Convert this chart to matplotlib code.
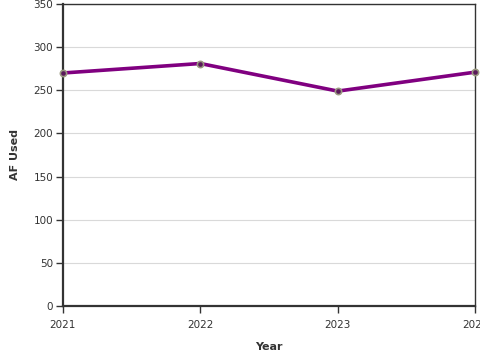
import matplotlib
matplotlib.use("Agg")
import matplotlib.pyplot as plt

years = [2021, 2022, 2023, 2024]
af_used = [270, 281, 249, 271]
y_ticks = [0, 50, 100, 150, 200, 250, 300, 350]

fig = plt.figure(figsize=(4.8, 3.6), dpi=100)
ax = fig.add_axes([0.131, 0.15, 0.859, 0.839])

ax.plot(years, af_used, color="#800080", linewidth=2.6, zorder=3)
ax.scatter(years, af_used, s=22, facecolor="#8c7f7f", edgecolor="#9a9a80",
           linewidth=1, zorder=4, clip_on=False)
ax.scatter(years, af_used, s=5, facecolor="#5a1a5a", zorder=5, clip_on=False)

ax.set_xlim(2021, 2024)
ax.set_ylim(0, 350)
ax.set_xticks(years)
ax.set_yticks(y_ticks)
ax.grid(axis="y", color="#d9d9d9", linewidth=0.8)
ax.set_axisbelow(True)

for side in ["top", "right"]:
    ax.spines[side].set_color("#333333")
    ax.spines[side].set_linewidth(1.0)
for side in ["left", "bottom"]:
    ax.spines[side].set_color("#333333")
    ax.spines[side].set_linewidth(1.6)

ax.tick_params(axis="both", direction="out", length=5, width=1, color="#333333",
               labelsize=7.5, labelcolor="#333333", pad=2)
ax.tick_params(axis="x", pad=5)

ax.set_xlabel("Year", fontsize=8, fontweight="bold", color="#333333", labelpad=9)
ax.set_ylabel("AF Used", fontsize=8, fontweight="bold", color="#333333", labelpad=10)

fig.savefig("out.png", dpi=100)
